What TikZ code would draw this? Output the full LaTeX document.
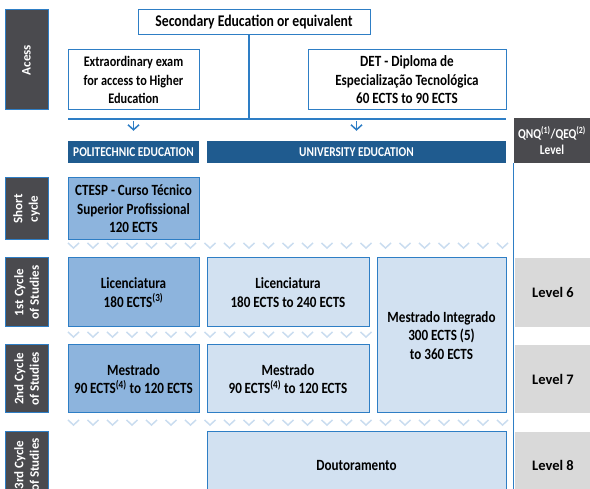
\documentclass[tikz,border=0pt]{standalone}
\usepackage{fontspec}
\setmainfont{Carlito}
\newfontfamily\condfont{Carlito}[FakeStretch=0.84]
\usetikzlibrary{arrows.meta}
\definecolor{sidegray}{RGB}{74,74,78}
\definecolor{edgeblue}{RGB}{46,126,197}
\definecolor{headblue}{RGB}{31,91,143}
\definecolor{polyblue}{RGB}{141,180,221}
\definecolor{uniblue}{RGB}{210,225,241}
\definecolor{levelgray}{RGB}{217,217,217}
\definecolor{chevblue}{RGB}{201,220,239}
\tikzset{
  txt/.style={font=\condfont\fontsize{15.6}{18.5}\selectfont\bfseries, align=center, inner sep=0pt},
  side/.style={txt, font=\fontsize{13}{15.5}\selectfont\bfseries, rotate=90, fill=sidegray, draw=edgeblue, line width=1pt, text=white},
  plainbox/.style={txt, draw=edgeblue, line width=1pt, fill=white},
  polybox/.style={txt, draw=edgeblue, line width=1pt, fill=polyblue},
  unibox/.style={txt, draw=edgeblue, line width=1pt, fill=uniblue},
  head/.style={txt, fill=headblue, text=white, font=\condfont\fontsize{13.5}{16}\selectfont\bfseries},
  levelbox/.style={txt, fill=levelgray, font=\fontsize{14.5}{17}\selectfont\bfseries},
  bar/.style={edgeblue, line width=1.5pt},
  chev/.style={chevblue, line width=1.5pt},
}
\begin{document}
\begin{tikzpicture}[x=1pt,y=-1pt]
  \useasboundingbox (0,0) rectangle (590,489);
  \clip (0,0) rectangle (590,489);
  % row labels
  \node[side, minimum width=100, minimum height=43] (acess) at (26.5,60) {Acess};
  \node[side, minimum width=62, minimum height=43] (short) at (26.5,209) {Short\\cycle};
  \node[side, minimum width=69, minimum height=43] (first) at (26.5,292.5) {1st Cycle\\of Studies};
  \node[side, minimum width=68, minimum height=43] (second) at (26.5,379) {2nd Cycle\\of Studies};
  \node[side, minimum width=66, minimum height=43] (third) at (26.5,465) {3rd Cycle\\of Studies};
  % access
  \node[plainbox, minimum width=232, minimum height=25, font=\condfont\fontsize{16.3}{18}\selectfont\bfseries] (sec) at (254,22.5) {Secondary Education or equivalent};
  \node[plainbox, minimum width=131, minimum height=60, font=\condfont\fontsize{14.6}{18.5}\selectfont\bfseries] (exam) at (133.5,80) {Extraordinary exam\\for access to Higher\\Education};
  \node[plainbox, minimum width=198, minimum height=60] (det) at (407,80) {DET - Diploma de\\Especialização Tecnológica\\60 ECTS to 90 ECTS};
  % headers
  \node[head, minimum width=131, minimum height=22] (poly) at (133.5,152) {POLITECHNIC EDUCATION};
  \node[head, minimum width=299, minimum height=22] (uni) at (356.5,152) {UNIVERSITY EDUCATION};
  \node[head, fill=sidegray, minimum width=76, minimum height=45] (qnq) at (552,140.5) {QNQ\textsuperscript{(1)}/QEQ\textsuperscript{(2)}\\Level};
  % courses
  \node[polybox, minimum width=131, minimum height=62] (ctesp) at (133.5,209) {CTESP - Curso Técnico\\Superior Profissional\\120 ECTS};
  \node[polybox, minimum width=131, minimum height=69] (licp) at (133.5,292.5) {Licenciatura\\180 ECTS\textsuperscript{(3)}};
  \node[unibox, minimum width=162, minimum height=69] (licu) at (288,292.5) {Licenciatura\\180 ECTS to 240 ECTS};
  \node[unibox, minimum width=129, minimum height=155] (mi) at (441.5,335.5) {Mestrado Integrado\\300 ECTS (5)\\to 360 ECTS};
  \node[polybox, minimum width=131, minimum height=68] (mesp) at (133.5,379) {Mestrado\\90\,ECTS\textsuperscript{(4)} to 120 ECTS};
  \node[unibox, minimum width=162, minimum height=68] (mesu) at (288,379) {Mestrado\\90\,ECTS\textsuperscript{(4)} to 120 ECTS};
  \node[unibox, minimum width=299, minimum height=66] (dout) at (356.5,465) {Doutoramento};
  % levels
  \node[levelbox, minimum width=76, minimum height=69] (lv6) at (553,292.5) {Level 6};
  \node[levelbox, minimum width=76, minimum height=68] (lv7) at (553,379) {Level 7};
  \node[levelbox, minimum width=76, minimum height=66] (lv8) at (553,465) {Level 8};
  % connectors
  \coordinate (barL) at (68,119);
  \coordinate (barR) at (506,119);
  \coordinate (barM) at (249,119);
  \coordinate (bot) at (0,495);
  \draw[bar] (barL) -- (barR);
  \draw[bar] (sec.south -| barM) -- (barM);
  \draw[bar, -{Straight Barb[length=5pt,width=11pt]}, shorten <=2pt, shorten >=10pt] (barL -| poly.north) -- (poly.north);
  \draw[bar, -{Straight Barb[length=5pt,width=11pt]}, shorten <=2pt, shorten >=10pt] (barL -| uni.north) -- (uni.north);
  \draw[edgeblue, line width=1pt] (qnq.south west) -- (qnq.south west |- bot);
  % chevrons
  \foreach \i in {0,...,22} \draw[chev] ({68+19.5*\i},243) -- ++(5.5,5) -- ++(5.5,-5);
  \foreach \i in {0,...,15} \draw[chev] ({68+19.5*\i},332) -- ++(5.5,5) -- ++(5.5,-5);
  \foreach \i in {0,...,22} \draw[chev] ({68+19.5*\i},420) -- ++(5.5,5) -- ++(5.5,-5);
\end{tikzpicture}
\end{document}
